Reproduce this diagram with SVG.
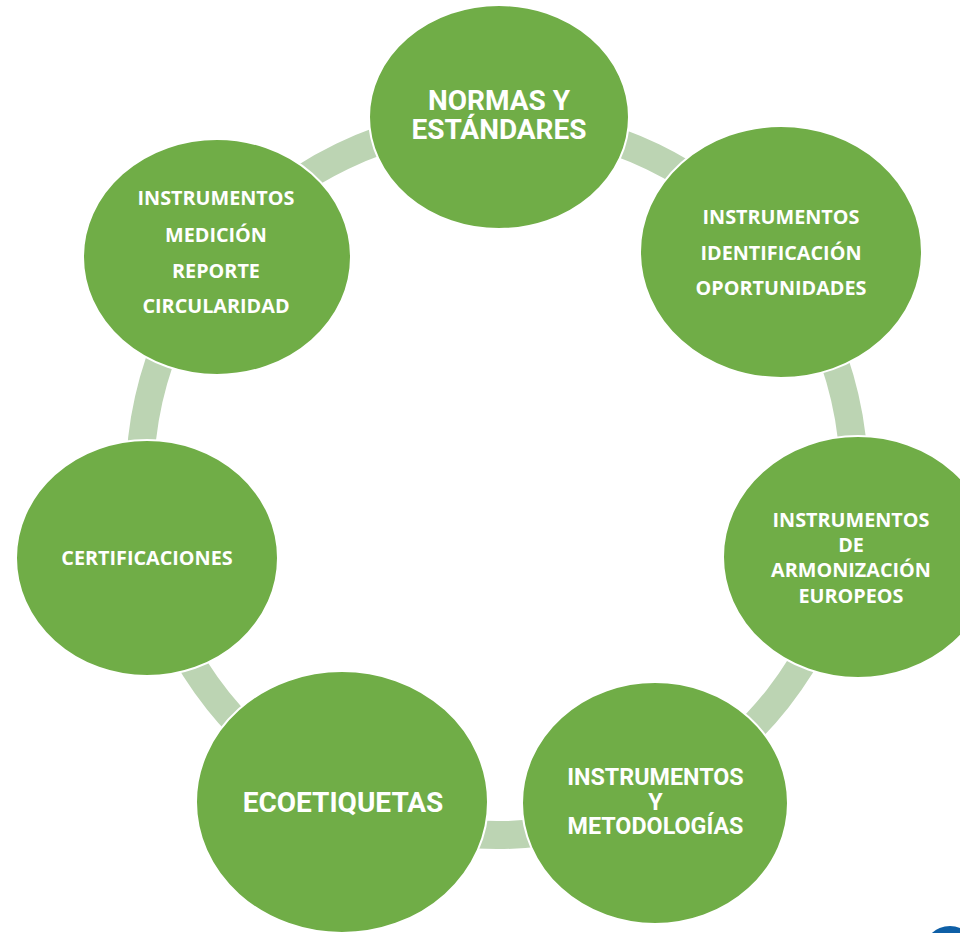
<svg xmlns="http://www.w3.org/2000/svg" width="960" height="933" viewBox="0 0 960 933">
<style>
.band{fill:none;stroke:#bcd4b3;stroke-width:28}
.node{fill:#70ad47;stroke:#ffffff;stroke-width:2}
.t1{font-family:"Open Sans","DejaVu Sans",sans-serif;font-weight:700;font-size:19.8px;fill:#ffffff;text-anchor:middle}
.t2{font-family:Roboto,"Liberation Sans",sans-serif;font-weight:700;fill:#ffffff;text-anchor:middle}
</style>
<rect width="960" height="933" fill="#ffffff"/>
<g id="connectors">
<path class="band" d="M498.9 121 A357 357 0 0 1 776.4 255.8"/>
<path class="band" d="M776.4 255.8 A357 357 0 0 1 845.8 554.1"/>
<path class="band" d="M845.8 554.1 A357 357 0 0 1 652.9 799.2"/>
<path class="band" d="M652.9 799.2 A357 357 0 0 1 342.7 800"/>
<path class="band" d="M342.7 800 A357 357 0 0 1 149 557.7"/>
<path class="band" d="M149 557.7 A357 357 0 0 1 216.8 256.7"/>
<path class="band" d="M216.8 256.7 A357 357 0 0 1 498.9 121"/>
</g>
<g id="node-normas">
<ellipse class="node" cx="499" cy="117" rx="130" ry="112"/>
<text class="t2" font-size="28" x="499" y="110">NORMAS Y</text>
<text class="t2" font-size="28" x="499" y="139">ESTÁNDARES</text>
</g>
<g id="node-identificacion">
<ellipse class="node" cx="781" cy="252" rx="141" ry="126"/>
<text class="t1" x="781" y="224">INSTRUMENTOS</text>
<text class="t1" x="781" y="260">IDENTIFICACIÓN</text>
<text class="t1" x="781" y="295">OPORTUNIDADES</text>
</g>
<g id="node-armonizacion">
<ellipse class="node" cx="858" cy="557" rx="135" ry="121"/>
<text class="t1" x="851" y="527">INSTRUMENTOS</text>
<text class="t1" x="851" y="552">DE</text>
<text class="t1" x="851" y="577">ARMONIZACIÓN</text>
<text class="t1" x="851" y="603">EUROPEOS</text>
</g>
<g id="node-metodologias">
<ellipse class="node" cx="655" cy="803" rx="133" ry="121"/>
<text class="t2" font-size="23.3" x="655.5" y="785">INSTRUMENTOS</text>
<text class="t2" font-size="23.3" x="655.5" y="810">Y</text>
<text class="t2" font-size="23.3" x="655.5" y="834">METODOLOGÍAS</text>
</g>
<g id="node-ecoetiquetas">
<ellipse class="node" cx="342" cy="802" rx="146" ry="131"/>
<text class="t2" font-size="28" x="343" y="812">ECOETIQUETAS</text>
</g>
<g id="node-certificaciones">
<ellipse class="node" cx="147" cy="558" rx="131" ry="118"/>
<text class="t1" x="147" y="565">CERTIFICACIONES</text>
</g>
<g id="node-medicion">
<ellipse class="node" cx="217" cy="257" rx="134" ry="118"/>
<text class="t1" x="216" y="205">INSTRUMENTOS</text>
<text class="t1" x="216" y="242">MEDICIÓN</text>
<text class="t1" x="216" y="278">REPORTE</text>
<text class="t1" x="216" y="313">CIRCULARIDAD</text>
</g>
<circle cx="950" cy="953" r="27" fill="#0e5fa6"/>
</svg>
